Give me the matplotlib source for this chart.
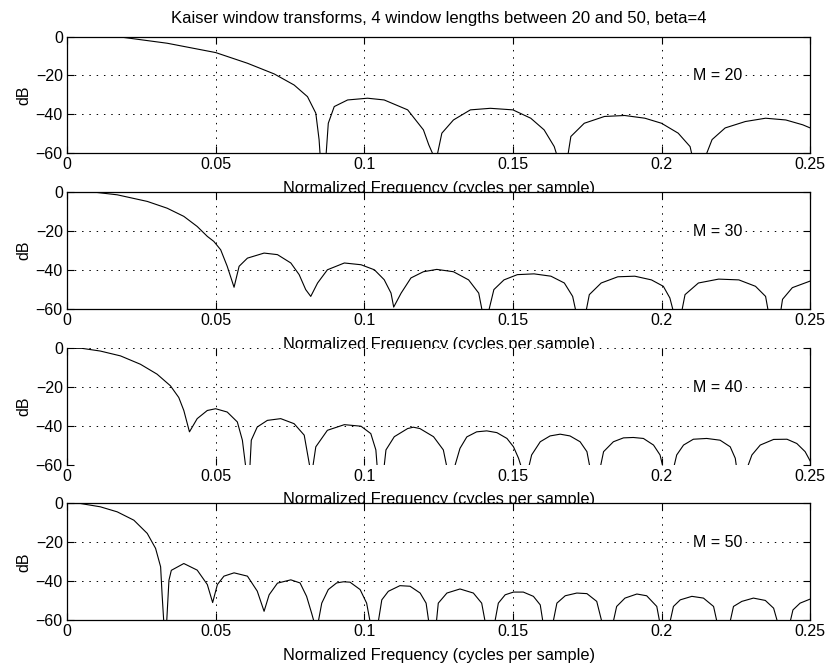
import numpy as np
import matplotlib
matplotlib.use("Agg")
import matplotlib.pyplot as plt

plt.rcParams['font.family'] = ['Liberation Sans', 'DejaVu Sans']

title = "Kaiser window transforms, 4 window lengths between 20 and 50, beta=4"
xlabel = "Normalized Frequency (cycles per sample)"
window_lengths = [20, 30, 40, 50]
xticks = [0, 0.05, 0.1, 0.15, 0.2, 0.25]
xticklabels = ["0", "0.05", "0.1", "0.15", "0.2", "0.25"]
yticks = [-60, -40, -20, 0]

# (frequency, dB); -62 marks where a null runs below the axis
m20 = [(0, 0), (0.0185, -0.3), (0.0337, -3.4), (0.05, -8.2), (0.0607, -13.7),
       (0.0697, -19.2), (0.0764, -24.9), (0.0809, -30.9), (0.0837, -39.4),
       (0.0848, -53), (0.0852, -62), (0.0871, -62), (0.0879, -44.6), (0.0899, -36),
       (0.0944, -32.6), (0.1011, -31.7), (0.1067, -32.6), (0.1146, -37.7),
       (0.1199, -48), (0.1217, -55.7), (0.1235, -62), (0.1244, -62), (0.1261, -49.7),
       (0.13, -42.9), (0.1357, -37.7), (0.1424, -36.9), (0.15, -37.7), (0.156, -42),
       (0.1605, -48), (0.1639, -56.6), (0.165, -62), (0.1684, -62), (0.1695, -51.4),
       (0.174, -44.6), (0.1808, -41.1), (0.1876, -40.6), (0.1944, -42), (0.2, -44.6),
       (0.2056, -49.7), (0.2096, -56.6), (0.2104, -62), (0.2147, -62), (0.217, -53),
       (0.2214, -47), (0.2282, -43.7), (0.235, -42), (0.2418, -42.9), (0.2475, -45.4),
       (0.25, -47)]

m30 = [(0, 0), (0.0101, 0), (0.0169, -1.2), (0.027, -4.6), (0.0337, -8.1),
       (0.0393, -12.3), (0.0438, -17.5), (0.0472, -22.6), (0.0494, -25.2),
       (0.0517, -29.5), (0.0539, -38), (0.0562, -48.8), (0.0579, -38), (0.0607, -33.8),
       (0.0663, -31.2), (0.0708, -32), (0.0753, -36.3), (0.0781, -42.3), (0.0803, -50),
       (0.082, -53.5), (0.0843, -46.6), (0.0876, -39.8), (0.0933, -36.3), (0.0989, -37.2),
       (0.1034, -39.8), (0.1067, -44.9), (0.109, -51.8), (0.1099, -59), (0.1124, -51.8),
       (0.1157, -44), (0.1199, -40.8), (0.1244, -39.6), (0.13, -40.8), (0.1351, -45),
       (0.1385, -51.8), (0.1398, -62), (0.1417, -62), (0.1436, -50), (0.147, -45),
       (0.1515, -42.3), (0.1571, -41.9), (0.1628, -43.1), (0.1673, -46.6), (0.1701, -53.5),
       (0.1713, -62), (0.1745, -62), (0.1757, -52.6), (0.1797, -46.6), (0.1853, -43.4),
       (0.191, -43.1), (0.1966, -45), (0.2006, -48.3), (0.2028, -54.3), (0.2041, -62),
       (0.2067, -62), (0.2079, -52.6), (0.2124, -46.6), (0.2192, -44.6), (0.226, -45),
       (0.2316, -48.3), (0.235, -53.5), (0.236, -62), (0.24, -62), (0.2407, -55),
       (0.244, -49), (0.25, -45.6)]

m40 = [(0, 0), (0.005, 0), (0.0112, -1.4), (0.018, -3.9), (0.0247, -8.2),
       (0.0303, -13.3), (0.0348, -19.3), (0.0376, -25.3), (0.0393, -32), (0.0412, -43),
       (0.0438, -36.2), (0.0472, -32), (0.05, -31.1), (0.0539, -32.8), (0.0573, -37.9),
       (0.059, -47.3), (0.0602, -62), (0.0615, -62), (0.062, -47.3), (0.064, -40.5),
       (0.0674, -37.1), (0.0719, -36.2), (0.0764, -38.8), (0.0798, -44.7), (0.0818, -62),
       (0.0826, -62), (0.0837, -50.7), (0.0876, -42.2), (0.0933, -39.3), (0.0989, -40.1),
       (0.1022, -43.9), (0.1039, -52.3), (0.1044, -62), (0.1066, -62), (0.1073, -52.3),
       (0.1101, -45.5), (0.1146, -41.3), (0.1165, -40.6), (0.1187, -41.3), (0.1233, -45.5),
       (0.1266, -52.3), (0.1279, -62), (0.1302, -62), (0.1322, -51.5), (0.1345, -45.6),
       (0.1378, -43), (0.1412, -42.5), (0.1446, -43.4), (0.148, -46.4), (0.1502, -50.7),
       (0.1519, -56.6), (0.153, -62), (0.1552, -62), (0.1563, -54.9), (0.1592, -48.1),
       (0.1625, -45.1), (0.1659, -44.2), (0.1692, -45.1), (0.1726, -48.1), (0.1749, -53.2),
       (0.176, -62), (0.1793, -62), (0.1805, -53.2), (0.1838, -48.1), (0.1872, -46.1),
       (0.1905, -45.9), (0.1939, -46.4), (0.1973, -49.8), (0.1995, -54.9), (0.2006, -62),
       (0.204, -62), (0.2051, -54.9), (0.2074, -49.8), (0.2107, -46.8), (0.2152, -46.4),
       (0.2197, -47.3), (0.2231, -50.7), (0.2248, -56.6), (0.2253, -62), (0.2287, -62),
       (0.2304, -54.9), (0.2332, -49.8), (0.2377, -46.9), (0.2422, -46.8), (0.2455, -49),
       (0.2483, -53.2), (0.25, -58)]

m50 = [(0, 0), (0.0045, 0), (0.0112, -1.7), (0.0169, -4.3), (0.0225, -8.6),
       (0.027, -15.4), (0.0298, -23.1), (0.0315, -32.6), (0.032, -47), (0.0326, -62),
       (0.0335, -62), (0.0343, -39.5), (0.0351, -34.4), (0.0393, -30.9), (0.0438, -34.3),
       (0.0472, -41.7), (0.049, -51), (0.0506, -41.7), (0.0528, -37.4), (0.0562, -35.7),
       (0.0607, -37.4), (0.064, -45.1), (0.0663, -55.5), (0.068, -47), (0.0708, -41),
       (0.0753, -39.3), (0.0784, -40.9), (0.0806, -47.8), (0.0823, -56.5), (0.0833, -62),
       (0.0844, -62), (0.0857, -51.3), (0.0879, -44.3), (0.0907, -40.9), (0.093, -40.3),
       (0.0952, -40.5), (0.0986, -44.3), (0.1008, -51.3), (0.1021, -62), (0.1046, -62),
       (0.1059, -49.6), (0.1081, -45.2), (0.112, -42.3), (0.1154, -42.6), (0.1188, -46.1),
       (0.1208, -51.3), (0.1218, -62), (0.1242, -62), (0.1249, -51.3), (0.1278, -46.1),
       (0.1322, -44), (0.1367, -46.1), (0.1395, -51.3), (0.1408, -62), (0.1438, -62),
       (0.1451, -51.3), (0.1474, -47), (0.1502, -45.6), (0.1535, -45.6), (0.1569, -47.8),
       (0.1592, -52.2), (0.1602, -62), (0.1634, -62), (0.1648, -51.3), (0.1676, -47.5),
       (0.1715, -46.1), (0.1749, -46.4), (0.1782, -50.4), (0.1801, -62), (0.1836, -62),
       (0.1849, -53), (0.1877, -48.7), (0.1917, -46.6), (0.195, -47.5), (0.1984, -53),
       (0.1995, -62), (0.2027, -62), (0.204, -53), (0.2063, -49.6), (0.2102, -47.8),
       (0.2141, -48.7), (0.2175, -53), (0.2188, -62), (0.2229, -62), (0.2242, -53),
       (0.227, -50.4), (0.2309, -48.7), (0.2349, -49.9), (0.2377, -53.9), (0.2392, -62),
       (0.2431, -62), (0.2442, -54.8), (0.2466, -51.3), (0.25, -49.2)]

curves = [m20, m30, m40, m50]

fig = plt.figure(figsize=(8.29, 6.66), dpi=100)
left, width, height = 0.0808, 0.8965, 0.175
bottoms = [0.770, 0.536, 0.302, 0.069]

for k, (M, pts) in enumerate(zip(window_lengths, curves)):
    ax = fig.add_axes([left, bottoms[k], width, height])
    f, db = np.array(pts).T
    ax.plot(f, db, color='black', lw=0.8)
    ax.set_xlim(0, 0.25)
    ax.set_ylim(-60, 0)
    ax.set_xticks(xticks)
    ax.set_xticklabels(xticklabels)
    ax.set_yticks(yticks)
    ax.grid(True, color='black', lw=0.7, linestyle=(0, (1.5, 6)))
    ax.tick_params(direction='in', length=5, width=0.8, top=True, right=True,
                   labelsize=11.5, colors='black')
    ax.tick_params(axis='x', pad=3)
    ax.tick_params(axis='y', pad=3)
    for s in ax.spines.values():
        s.set_linewidth(0.9)
    if k == 2:
        ax.spines['top'].set_visible(False)
        ax.spines['bottom'].set_visible(False)
    ax.set_ylabel("dB", fontsize=11.5, labelpad=3)
    ax.set_xlabel(xlabel, fontsize=11.8, labelpad=6)
    ax.text(0.2105, -20, "M = %d" % M, fontsize=11.5, ha='left', va='center',
            bbox=dict(facecolor='white', edgecolor='none', pad=1.5))
    if k == 0:
        ax.set_title(title, fontsize=12, pad=10)

fig.savefig("out.png", dpi=100)
